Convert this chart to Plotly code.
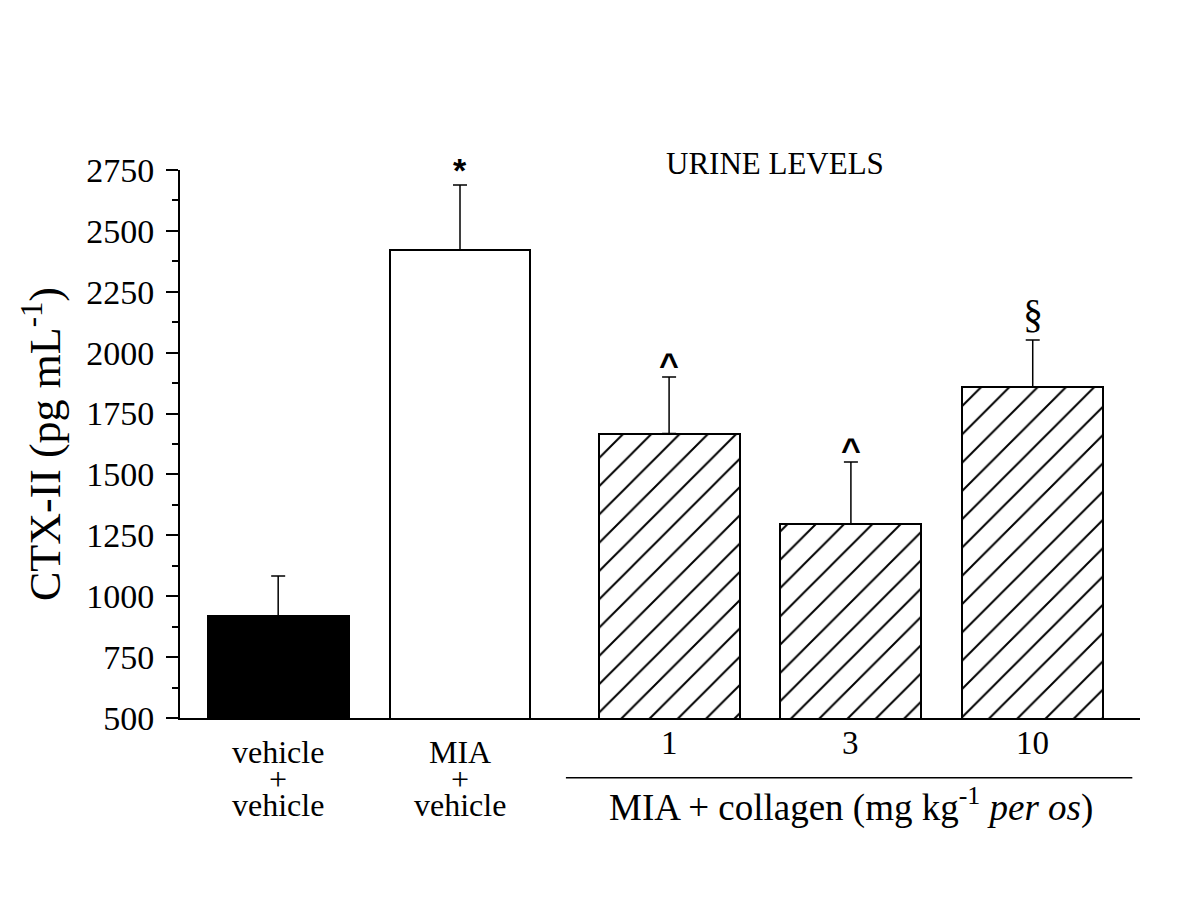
import plotly.graph_objects as go

# data
groups = ["vehicle+vehicle", "MIA+vehicle", "1", "3", "10"]
means = [920, 2420, 1668, 1295, 1860]
err_up = [1083, 2688, 1900, 1551, 2052]
sig = ["", "*", "^", "^", "§"]
tick_lines = [["vehicle", "+", "vehicle"], ["MIA", "+", "vehicle"], ["1"], ["3"], ["10"]]
y_ticks = [500, 750, 1000, 1250, 1500, 1750, 2000, 2250, 2500, 2750]

# bar positions, small gap before the collagen groups
gap = 0.15
x_pos = [0, 1, 2 + gap, 3 + gap, 4 + gap]

SERIF = "Liberation Serif, Times New Roman, serif"
SANS = "Liberation Sans, Arial, sans-serif"

fig = go.Figure()

# vehicle + vehicle (black)
fig.add_trace(go.Bar(
    x=x_pos[:1], y=means[:1], width=0.775,
    marker=dict(color="black", line=dict(color="black", width=2)),
    error_y=dict(type="data", symmetric=False,
                 array=[err_up[0] - means[0]], arrayminus=[0],
                 color="black", thickness=1.5, width=7),
    showlegend=False,
))
# MIA + vehicle (white)
fig.add_trace(go.Bar(
    x=x_pos[1:2], y=means[1:2], width=0.775,
    marker=dict(color="white", line=dict(color="black", width=2)),
    error_y=dict(type="data", symmetric=False,
                 array=[err_up[1] - means[1]], arrayminus=[0],
                 color="black", thickness=1.5, width=7),
    showlegend=False,
))
# MIA + collagen (hatched)
fig.add_trace(go.Bar(
    x=x_pos[2:], y=means[2:], width=0.775,
    marker=dict(color="white", line=dict(color="black", width=2),
                pattern=dict(shape="/", fgcolor="black", bgcolor="white",
                             fgopacity=1, size=20, solidity=0.1)),
    error_y=dict(type="data", symmetric=False,
                 array=[e - m for e, m in zip(err_up[2:], means[2:])],
                 arrayminus=[0, 0, 0],
                 color="black", thickness=1.5, width=7),
    showlegend=False,
))

annotations = []
# significance marks above error bars
for x, e, s in zip(x_pos, err_up, sig):
    if not s:
        continue
    if s == "§":
        annotations.append(dict(
            x=x, y=e, xref="x", yref="y", text=s, showarrow=False,
            yanchor="bottom", yshift=2,
            font=dict(family=SERIF, size=40, color="black")))
    else:
        annotations.append(dict(
            x=x, y=e, xref="x", yref="y", text="<b>" + s + "</b>", showarrow=False,
            yanchor="bottom", yshift=-6 if s == "*" else -8,
            font=dict(family=SANS, size=34, color="black")))

# category labels under the axis (tight line spacing)
line_shift = [-34, -61, -87]
for x, lines in zip(x_pos, tick_lines):
    for i, t in enumerate(lines):
        multi = len(lines) > 1
        annotations.append(dict(
            x=x, y=0, xref="x", yref="paper", text=t, showarrow=False,
            yanchor="middle", yshift=line_shift[i] if multi else -25,
            font=dict(family=SERIF, size=32 if multi else 33, color="black"),
        ))

annotations.append(dict(
    x=x_pos[3], y=0, xref="x", yref="paper",
    text="MIA + collagen (mg kg<sup>-1</sup> <i>per os</i>)", showarrow=False,
    yanchor="middle", yshift=-87,
    font=dict(family=SERIF, size=37, color="black"),
))
annotations.append(dict(
    x=0, y=0.5, xref="paper", yref="paper", xshift=-138, xanchor="center",
    text="CTX-II (pg mL<sup>-1</sup>)", textangle=-90, showarrow=False,
    font=dict(family=SERIF, size=44, color="black"),
))
annotations.append(dict(
    x=x_pos[3] - 0.42, y=1.0, xref="x", yref="paper",
    text="URINE LEVELS", showarrow=False, yanchor="middle", yshift=7,
    font=dict(family=SERIF, size=31, color="black"),
))

fig.update_layout(
    width=1200, height=900,
    margin=dict(l=172, r=68, t=162, b=190),
    paper_bgcolor="white", plot_bgcolor="white",
    annotations=annotations,
    shapes=[dict(type="line", xref="paper", yref="paper",
                 x0=0.402, x1=0.992, y0=-0.109, y1=-0.109,
                 line=dict(color="black", width=1.5))],
    bargap=0,
)

fig.update_xaxes(
    range=[-0.54, 4.74], showline=True, linecolor="black", linewidth=2,
    showticklabels=False, ticks="", showgrid=False, zeroline=False,
)
fig.update_yaxes(
    range=[500, 2750], tickvals=y_ticks, showline=True, linecolor="black",
    linewidth=2, ticks="outside", ticklen=12, tickwidth=2, tickcolor="black",
    minor=dict(dtick=125, ticks="outside", ticklen=6, tickwidth=2, tickcolor="black"),
    tickfont=dict(family=SERIF, size=34, color="black"), ticklabelstandoff=5,
    showgrid=False, zeroline=False,
)

fig.write_html("out.html")
